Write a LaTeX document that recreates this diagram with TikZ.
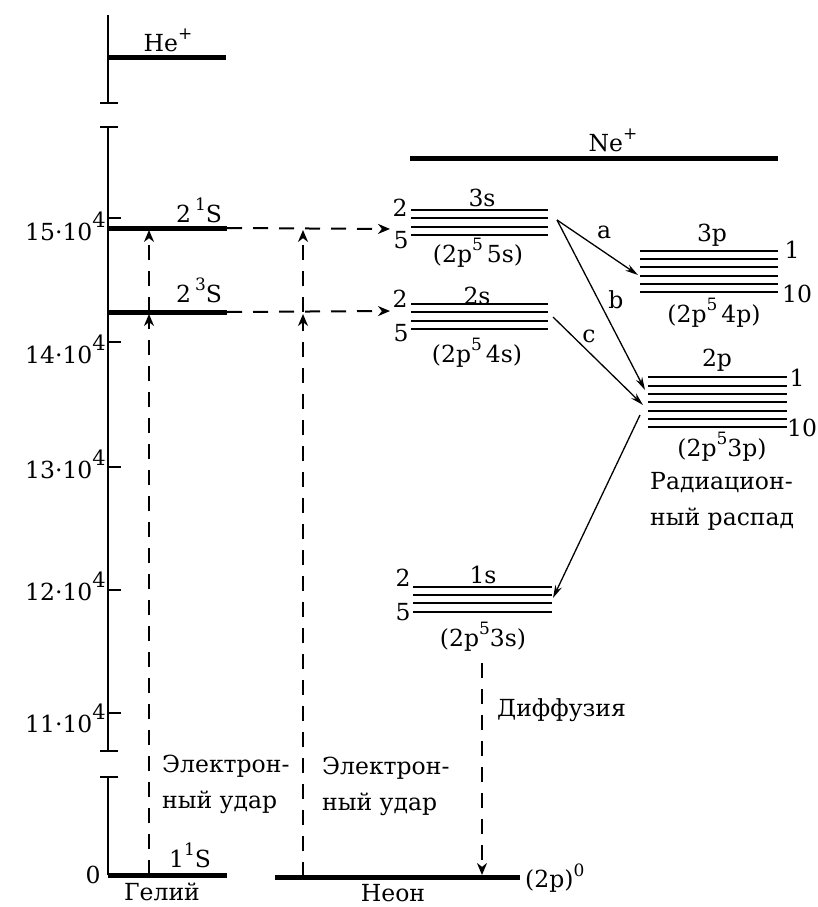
\documentclass[tikz,border=0pt]{standalone}
\usepackage{fontspec}
\setmainfont{DejaVu Serif}
\usetikzlibrary{arrows.meta}
\newcommand{\lvlsup}[1]{\raisebox{0.5em}{\fontsize{17}{17}\selectfont #1}}
\newcommand{\axsup}[1]{\raisebox{0.55em}{\fontsize{21}{21}\selectfont #1}}
\tikzset{
  axis-line/.style={line width=2.5pt},
  level-main/.style={line width=5pt},
  level-sub/.style={line width=2.4pt},
  arrow-pump/.style={-{Stealth[length=12pt,width=10pt]},line width=2pt,
    dash pattern=on 15pt off 11pt,shorten >=2pt},
  arrow-rad/.style={-{Stealth[length=13pt,width=7pt]},line width=1.3pt},
  lbl/.style={inner sep=0pt,font=\fontsize{23.5}{36}\selectfont},
}

\begin{document}
\begin{tikzpicture}[x=1pt,y=-1pt]
  \useasboundingbox (0,0) rectangle (818,907);
  % energy axis with breaks
  \draw[axis-line] (108,15) -- (108,103) (100,103) -- (118,103);
  \draw[axis-line] (100,127) -- (118,127) (108,127) -- (108,751) (100,751) -- (118,751);
  \draw[axis-line] (100,777) -- (118,777) (108,777) -- (108,875);
  \draw[axis-line] (108,218) -- (121,218) (108,342) -- (121,342) (108,467) -- (121,467)
    (108,590) -- (121,590) (108,713) -- (121,713);
  \node[lbl,anchor=base east] (t15) at (106,240) {15·10\axsup{4}};
  \node[lbl,anchor=base east] (t14) at (106,363) {14·10\axsup{4}};
  \node[lbl,anchor=base east] (t13) at (106,478) {13·10\axsup{4}};
  \node[lbl,anchor=base east] (t12) at (106,600) {12·10\axsup{4}};
  \node[lbl,anchor=base east] (t11) at (106,732) {11·10\axsup{4}};
  \node[lbl] (t0) at (93,875) {0};

  % helium
  \draw[level-main] (108,58) -- (226,58);
  \draw[level-main] (108,228) -- (227,228);
  \draw[level-main] (108,312) -- (227,312);
  \draw[level-main] (108,875) -- (227,875);
  \node[lbl] (heion) at (168,40) {He\lvlsup{+}};
  \node[lbl,anchor=base west] (he1Slbl) at (176,222) {2\,\lvlsup{1}S};
  \node[lbl,anchor=base west] (he3Slbl) at (176,302) {2\,\lvlsup{3}S};
  \node[lbl,anchor=base west] (he0lbl) at (169,867) {1\lvlsup{1}S};
  \node[lbl] (helium) at (162,892) {Гелий};

  % neon
  \draw[level-main] (410,158) -- (778,158);
  \draw[level-main] (275,877) -- (520,877);
  \node[lbl] (neion) at (613,140) {Ne\lvlsup{+}};
  \node[lbl] (neon) at (393,893) {Неон};
  \node[lbl,anchor=west] (ne0lbl) at (525,878) {(2p)\lvlsup{0}};

  \draw[level-sub] (411,210) -- (548,210) (411,218) -- (548,218)
    (411,227) -- (548,227) (411,235) -- (548,235);
  \node[lbl] (n3s) at (482,198) {3s};
  \node[lbl] (n3sa) at (400,208) {2};
  \node[lbl] (n3sb) at (401,240) {5};
  \node[lbl] (n3sc) at (478,253) {(2p\lvlsup{5}\,5s)};

  \draw[level-sub] (411,304) -- (548,304) (411,312) -- (548,312)
    (411,321) -- (548,321) (411,329) -- (548,329);
  \node[lbl] (n2s) at (477,296) {2s};
  \node[lbl] (n2sa) at (400,299) {2};
  \node[lbl] (n2sb) at (401,333) {5};
  \node[lbl] (n2sc) at (477,353) {(2p\lvlsup{5}\,4s)};

  \draw[level-sub] (640,251) -- (778,251) (640,259) -- (778,259) (640,267) -- (778,267)
    (640,276) -- (778,276) (640,284) -- (778,284) (640,292) -- (778,292);
  \node[lbl] (n3p) at (712,235) {3p};
  \node[lbl] (n3pa) at (792,250) {1};
  \node[lbl] (n3pb) at (797,294) {10};
  \node[lbl] (n3pc) at (714,313) {(2p\lvlsup{5}\,4p)};

  \draw[level-sub] (648,377) -- (787,377) (648,386) -- (787,386) (648,394) -- (787,394)
    (648,402) -- (787,402) (648,411) -- (787,411) (648,419) -- (787,419) (648,427) -- (787,427);
  \node[lbl] (n2p) at (717,360) {2p};
  \node[lbl] (n2pa) at (797,378) {1};
  \node[lbl] (n2pb) at (802,428) {10};
  \node[lbl] (n2pc) at (722,447) {(2p\lvlsup{5}3p)};

  \draw[level-sub] (413,587) -- (552,587) (413,595) -- (552,595)
    (413,603) -- (552,603) (413,612) -- (552,612);
  \node[lbl] (n1s) at (483,575) {1s};
  \node[lbl] (n1sa) at (403,578) {2};
  \node[lbl] (n1sb) at (403,612) {5};
  \node[lbl] (n1sc) at (483,637) {(2p\lvlsup{5}3s)};

  % transfer points
  \coordinate (he0) at (149,875);
  \coordinate (he3S) at (149,312);
  \coordinate (he1S) at (149,228);
  \coordinate (ne0) at (303,877);
  \coordinate (ne3S) at (303,312);
  \coordinate (ne1S) at (303,228);
  \coordinate (he1Send) at (227,228);
  \coordinate (he3Send) at (227,312);
  \coordinate (ne3sin) at (392,229);
  \coordinate (ne2sin) at (392,311);
  \coordinate (ne3sout) at (557,220);
  \coordinate (ne2sout) at (553,317);
  \coordinate (ne3pin) at (638,275);
  \coordinate (ne2pinb) at (645,390);
  \coordinate (ne2pinc) at (643,405);
  \coordinate (ne2pout) at (640,415);
  \coordinate (ne1sin) at (553,598);
  \coordinate (ne1sout) at (482,663);
  \coordinate (ne0d) at (482,877);

  \draw[arrow-pump] (he0) -- (he3S);
  \draw[arrow-pump] (he3S) -- (he1S);
  \draw[arrow-pump] (ne0) -- (ne3S);
  \draw[arrow-pump] (ne3S) -- (ne1S);
  \draw[arrow-pump] (he1Send) -- (ne3sin);
  \draw[arrow-pump] (he3Send) -- (ne2sin);
  \draw[arrow-pump] (ne1sout) -- (ne0d);

  \draw[arrow-rad] (ne3sout) -- (ne3pin);
  \draw[arrow-rad] (ne3sout) -- (ne2pinb);
  \draw[arrow-rad] (ne2sout) -- (ne2pinc);
  \draw[arrow-rad] (ne2pout) -- (ne1sin);
  \node[lbl] (la) at (604,232) {a};
  \node[lbl] (lb) at (616,300) {b};
  \node[lbl] (lc) at (589,336) {c};

  \node[lbl,anchor=north west,align=left] (hit1) at (162,755) {Электрон-\\ный удар};
  \node[lbl,anchor=north west,align=left] (hit2) at (322,757) {Электрон-\\ный удар};
  \node[lbl,anchor=north west,align=left] (decay) at (650,472) {Радиацион-\\ный распад};
  \node[lbl,anchor=west] (diff) at (497,710) {Диффузия};
\end{tikzpicture}
\end{document}
